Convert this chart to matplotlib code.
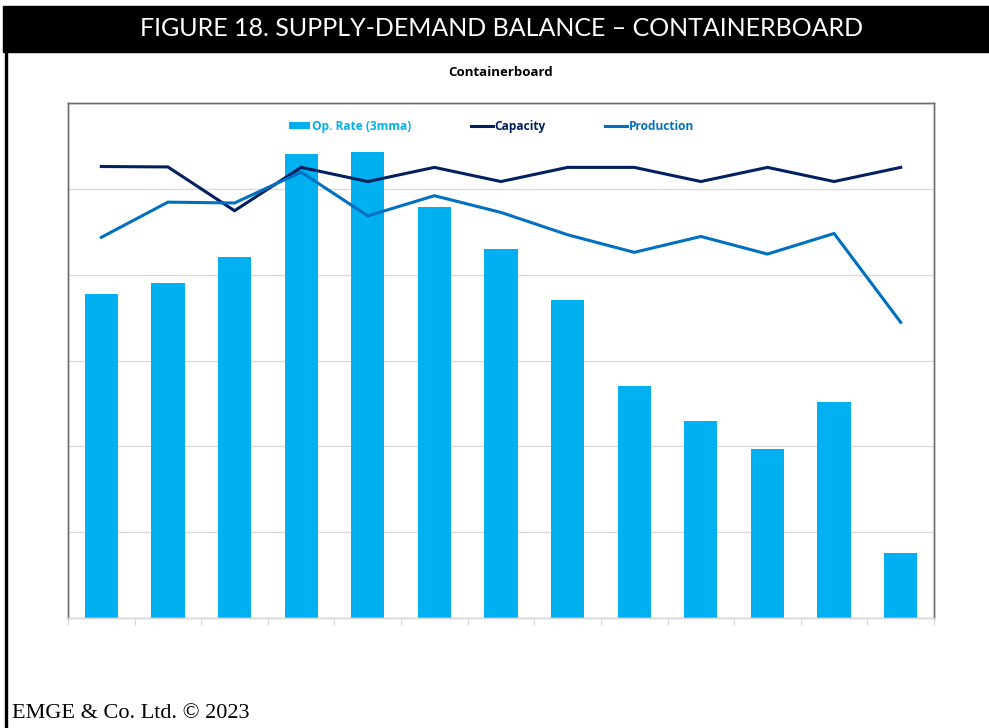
import numpy as np
import matplotlib
matplotlib.use("Agg")
import matplotlib.pyplot as plt
from matplotlib.patches import Rectangle, Patch
from matplotlib.lines import Line2D

# ─────────────────────────────────────────────
#   DATA (no axis labels shown)
# ─────────────────────────────────────────────
periods = list(range(1, 14))
op_rate = [91.55, 91.80, 92.42, 94.82, 94.86, 93.58, 92.59,
           91.41, 89.41, 88.59, 87.93, 89.03, 85.51]          # % (3mma)
capacity = [40.52, 40.51, 39.49, 40.50, 40.17, 40.50, 40.17,
            40.50, 40.50, 40.17, 40.50, 40.17, 40.50]
production = [38.87, 39.69, 39.67, 40.39, 39.37, 39.84, 39.45,
              38.93, 38.52, 38.89, 38.48, 38.96, 36.89]

BAR_CLR = "#00B0F0"
CAP_CLR = "#002060"
PROD_CLR = "#0070C0"
GRID_CLR = "#D9D9D9"
FRAME_CLR = "#6E6E6E"

fig = plt.figure(figsize=(9.89, 7.28), dpi=100, facecolor="white")

# ── header band + left rule ──
fig.patches.append(Rectangle((0.003, 1 - 52 / 728), 0.997, 46 / 728,
                             transform=fig.transFigure, color="black", zorder=0))
fig.patches.append(Rectangle((0.005, 0), 2.2 / 989, 1 - 52 / 728,
                             transform=fig.transFigure, color="black", zorder=0))
fig.text(0.507, 1 - 29 / 728, "FIGURE 18. SUPPLY-DEMAND BALANCE \u2013 CONTAINERBOARD",
         color="white", fontsize=18, family="Lato", ha="center", va="center")
fig.text(0.506, 1 - 72 / 728, "Containerboard", fontsize=9.5, fontweight="bold",
         family="Open Sans", ha="center", va="center")
fig.text(0.012, 1 - 714 / 728, "EMGE & Co. Ltd. \u00a9 2023", fontsize=16,
         family="Liberation Serif", ha="left", va="center")

# ── plot area ──
ax = fig.add_axes([68 / 989, 1 - 618 / 728, 866 / 989, 515 / 728])
x = np.arange(len(periods))
ax.bar(x, op_rate, width=0.5, color=BAR_CLR, zorder=2)
ax.set_xlim(-0.5, len(periods) - 0.5)
ax.set_ylim(84, 96)
ax.set_yticks(np.arange(84, 97, 2))
ax.yaxis.grid(True, color=GRID_CLR, linewidth=0.9, zorder=0)
ax.set_axisbelow(True)
ax.set_xticks(np.arange(-0.5, len(periods), 1))
ax.tick_params(axis="x", length=5, color=GRID_CLR, labelbottom=False, width=0.9)
ax.tick_params(axis="y", length=0, labelleft=False)

ax2 = ax.twinx()
ax2.plot(x, capacity, color=CAP_CLR, linewidth=2.2, solid_joinstyle="miter", zorder=3)
ax2.plot(x, production, color=PROD_CLR, linewidth=2.2, solid_joinstyle="miter", zorder=3)
ax2.set_ylim(30, 42)
ax2.tick_params(axis="y", length=0, labelright=False)

for a in (ax, ax2):
    for side in ("left", "top", "right"):
        a.spines[side].set_color(FRAME_CLR)
        a.spines[side].set_linewidth(1.0)
    a.spines["bottom"].set_color(GRID_CLR)
    a.spines["bottom"].set_linewidth(1.0)

handles = [Patch(facecolor=BAR_CLR, edgecolor="none"),
           Line2D([], [], color=CAP_CLR, linewidth=2.2),
           Line2D([], [], color=PROD_CLR, linewidth=2.2)]
labels = ["Op. Rate (3mma)", "Capacity", "Production"]
leg = ax2.legend(handles, labels, ncol=3, frameon=False, loc="center",
                 bbox_to_anchor=(0.489, 0.955), prop={"family": "Open Sans", "weight": "bold", "size": 8.6},
                 labelcolor=[BAR_CLR, CAP_CLR, PROD_CLR], handlelength=1.8,
                 handleheight=0.6, handletextpad=0.15, columnspacing=5.0)

plt.savefig("out.png", dpi=100, facecolor="white")
